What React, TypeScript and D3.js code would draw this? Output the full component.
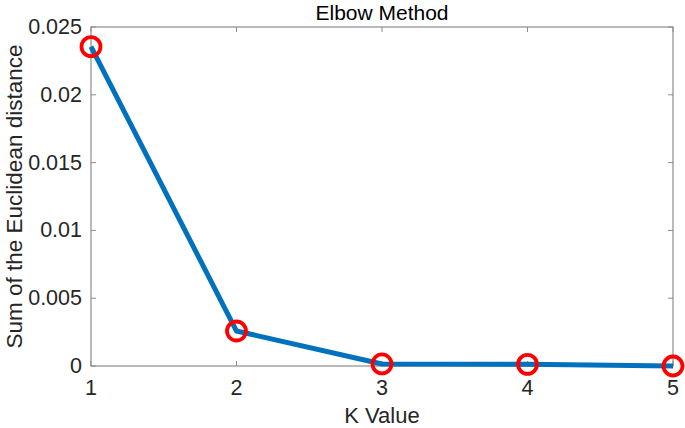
import { useRef, useEffect } from 'react';
import * as d3 from 'd3';

const kValues = [1, 2, 3, 4, 5];
const distanceSums = [0.02355, 0.00258, 0.00015, 0.00012, 0.0];
const xTicks = [1, 2, 3, 4, 5];
const yTicks = [0, 0.005, 0.01, 0.015, 0.02, 0.025];
const yTickLabels = ['0', '0.005', '0.01', '0.015', '0.02', '0.025'];

const W = 685;
const H = 428;
const margin = { top: 27, right: 12, bottom: 62, left: 91 };

export default function App() {
  const svgRef = useRef<SVGSVGElement>(null);

  useEffect(() => {
    const svg = d3.select(svgRef.current);
    svg.selectAll('*').remove();
    svg.style('font-family', '"Liberation Sans", Arial, sans-serif');

    const x = d3.scaleLinear().domain([1, 5]).range([margin.left, W - margin.right]);
    const y = d3.scaleLinear().domain([0, 0.025]).range([H - margin.bottom, margin.top]);
    const [x0, x1] = x.range();
    const [y0, y1] = y.range();

    const axisColor = '#8c8c8c';
    const textColor = '#262626';

    // box
    svg
      .append('rect')
      .attr('x', x0)
      .attr('y', y1)
      .attr('width', x1 - x0)
      .attr('height', y0 - y1)
      .attr('fill', 'none')
      .attr('stroke', axisColor)
      .attr('stroke-width', 1.2);

    const tickLen = 5;
    // x ticks (bottom + top, inward)
    xTicks.forEach(t => {
      svg.append('line')
        .attr('x1', x(t)).attr('x2', x(t))
        .attr('y1', y0).attr('y2', y0 - tickLen)
        .attr('stroke', axisColor);
      svg.append('line')
        .attr('x1', x(t)).attr('x2', x(t))
        .attr('y1', y1).attr('y2', y1 + tickLen)
        .attr('stroke', axisColor);
      svg.append('text')
        .attr('x', x(t))
        .attr('y', y0 + 29)
        .attr('text-anchor', 'middle')
        .attr('font-size', 21.5)
        .attr('fill', textColor)
        .text(String(t));
    });

    // y ticks (left + right, inward)
    yTicks.forEach((t, i) => {
      svg.append('line')
        .attr('x1', x0).attr('x2', x0 + tickLen)
        .attr('y1', y(t)).attr('y2', y(t))
        .attr('stroke', axisColor);
      svg.append('line')
        .attr('x1', x1).attr('x2', x1 - tickLen)
        .attr('y1', y(t)).attr('y2', y(t))
        .attr('stroke', axisColor);
      svg.append('text')
        .attr('x', x0 - 9)
        .attr('y', y(t) + 7)
        .attr('text-anchor', 'end')
        .attr('font-size', 21.5)
        .attr('fill', textColor)
        .text(yTickLabels[i]);
    });

    const line = d3
      .line<number>()
      .x((d, i) => x(kValues[i]))
      .y(d => y(d));

    svg.append('path')
      .datum(distanceSums)
      .attr('d', line)
      .attr('fill', 'none')
      .attr('stroke', '#0072BD')
      .attr('stroke-width', 5)
      .attr('stroke-linejoin', 'round');

    svg.selectAll('circle.marker')
      .data(distanceSums)
      .join('circle')
      .attr('class', 'marker')
      .attr('cx', (d, i) => x(kValues[i]))
      .attr('cy', d => y(d))
      .attr('r', 9.5)
      .attr('fill', 'none')
      .attr('stroke', '#FF0000')
      .attr('stroke-width', 3.8);

    // title & labels
    svg.append('text')
      .attr('x', (x0 + x1) / 2)
      .attr('y', 19.5)
      .attr('text-anchor', 'middle')
      .attr('font-size', 21)
      .attr('fill', '#000')
      .text('Elbow Method');

    svg.append('text')
      .attr('x', (x0 + x1) / 2)
      .attr('y', 423)
      .attr('text-anchor', 'middle')
      .attr('font-size', 22)
      .attr('fill', textColor)
      .text('K Value');

    svg.append('text')
      .attr('transform', `translate(21.5,${(y0 + y1) / 2}) rotate(-90)`)
      .attr('text-anchor', 'middle')
      .attr('font-size', 22.5)
      .attr('fill', textColor)
      .text('Sum of the Euclidean distance');
  }, []);

  return (
    <svg
      ref={svgRef}
      width={W}
      height={H}
      style={{ position: 'absolute', left: 0, top: 0, background: 'white' }}
    />
  );
}
